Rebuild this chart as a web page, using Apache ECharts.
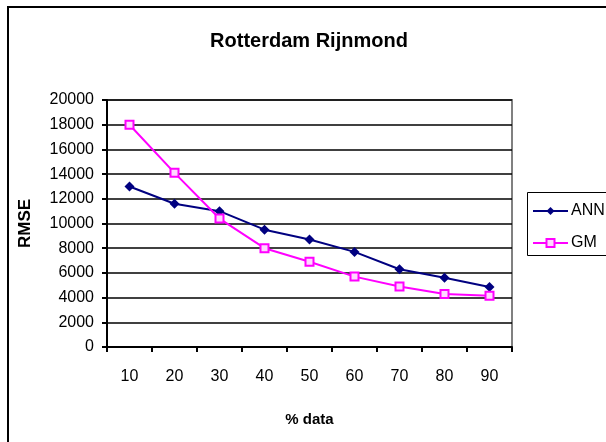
<!DOCTYPE html>
<html>
<head>
<meta charset="utf-8">
<script src="https://cdn.jsdelivr.net/npm/echarts@6/dist/echarts.min.js"></script>
<style>
html,body{margin:0;padding:0;background:#fff;}
#c{width:606px;height:442px;}
</style>
</head>
<body>
<div id="c"></div>
<script>
const titleText = 'Rotterdam Rijnmond';
const categories = ['10', '20', '30', '40', '50', '60', '70', '80', '90'];
const annValues = [13000, 11600, 11000, 9500, 8700, 7700, 6300, 5600, 4850];
const gmValues = [18000, 14100, 10400, 8000, 6900, 5700, 4900, 4300, 4150];
const seriesNames = ['ANN', 'GM'];
const xAxisName = '% data';
const yAxisName = 'RMSE';

const FONT = '"Liberation Sans", Arial, sans-serif';
const chart = echarts.init(document.getElementById('c'), null, {renderer: 'canvas'});
chart.setOption({
  animation: false,
  backgroundColor: '#fff',
  textStyle: {fontFamily: FONT},
  title: {
    text: titleText,
    left: 304,
    textAlign: 'center',
    top: 26,
    textStyle: {fontFamily: FONT, fontSize: 20, fontWeight: 'bold', color: '#000'}
  },
  graphic: [{
    type: 'rect',
    shape: {x: 8, y: 7, width: 700, height: 500},
    style: {fill: 'none', stroke: '#000', lineWidth: 2},
    silent: true
  }, {
    type: 'rect',
    shape: {x: 527.5, y: 192.5, width: 120, height: 63},
    style: {fill: 'none', stroke: '#000', lineWidth: 1},
    silent: true
  }],
  legend: {
    orient: 'vertical',
    left: 527,
    top: 192,
    padding: [11, 5, 5, 5],
    itemWidth: 35,
    itemHeight: 10,
    itemGap: 16,
    textStyle: {fontFamily: FONT, fontSize: 16, color: '#000', padding: [0, 0, 0, -2]},
    data: seriesNames
  },
  grid: {
    left: 107, top: 100, width: 405, height: 247,
    show: true, borderColor: '#808080', borderWidth: 2, backgroundColor: '#fff'
  },
  xAxis: {
    type: 'category',
    data: categories,
    boundaryGap: true,
    name: xAxisName,
    nameLocation: 'middle',
    nameGap: 65,
    nameTextStyle: {fontFamily: FONT, fontSize: 15, fontWeight: 'bold', color: '#000'},
    axisLine: {lineStyle: {color: '#000', width: 2}},
    axisTick: {show: true, length: 5, inside: false, lineStyle: {color: '#000', width: 2}},
    axisLabel: {fontFamily: FONT, fontSize: 16, color: '#000', margin: 22},
    splitLine: {show: false}
  },
  yAxis: {
    type: 'value',
    min: 0, max: 20000, interval: 2000,
    name: yAxisName,
    nameLocation: 'middle',
    nameGap: 73,
    nameRotate: 90,
    nameTextStyle: {fontFamily: FONT, fontSize: 17, fontWeight: 'bold', color: '#000'},
    axisLine: {show: true, lineStyle: {color: '#000', width: 2}},
    axisTick: {show: true, length: 5, lineStyle: {color: '#000', width: 2}},
    axisLabel: {fontFamily: FONT, fontSize: 16, color: '#000', margin: 13, formatter: function (v) { return String(v); }},
    splitLine: {show: true, lineStyle: {color: '#000', width: 1.5}}
  },
  series: [
    {
      name: seriesNames[0],
      type: 'line',
      data: annValues,
      symbol: 'diamond',
      symbolSize: 10,
      lineStyle: {color: '#000080', width: 2},
      itemStyle: {color: '#000080'}
    },
    {
      name: seriesNames[1],
      type: 'line',
      data: gmValues,
      symbol: 'rect',
      symbolSize: 8,
      lineStyle: {color: '#ff00ff', width: 2},
      itemStyle: {color: '#ffd8ff', borderColor: '#ff00ff', borderWidth: 2}
    }
  ]
});
</script>
</body>
</html>
